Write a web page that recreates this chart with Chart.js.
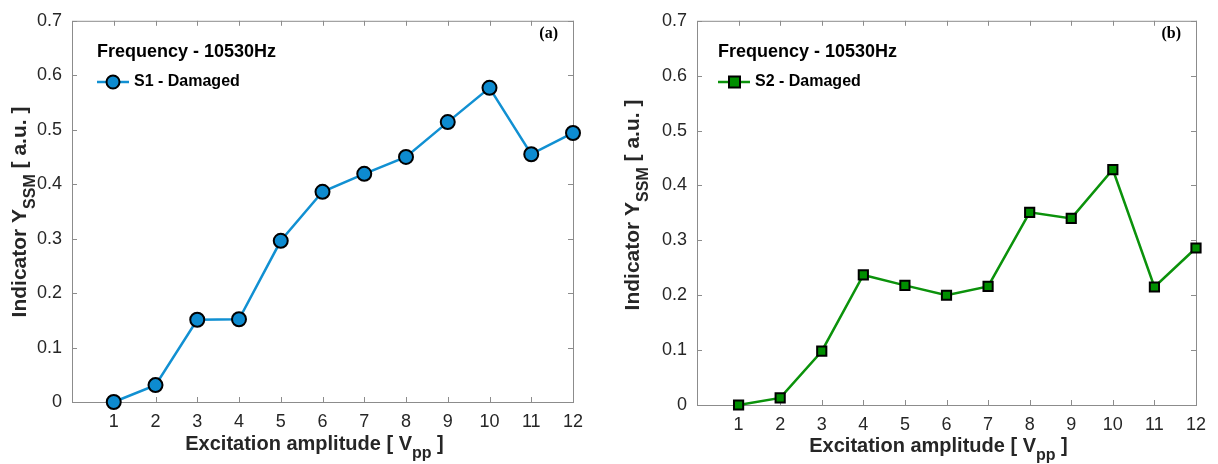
<!DOCTYPE html>
<html>
<head>
<meta charset="utf-8">
<script src="https://cdn.jsdelivr.net/npm/chart.js@4.4.1/dist/chart.umd.min.js"></script>
<style>
  html, body { margin: 0; padding: 0; background: #fff; }
  #wrap { position: relative; width: 1218px; height: 464px; }
  .panel { position: absolute; top: 0; height: 464px; }
</style>
</head>
<body>
<div id="wrap">
  <div class="panel" style="left:0;width:600px"><canvas id="chartA"></canvas></div>
  <div class="panel" style="left:609px;width:609px"><canvas id="chartB"></canvas></div>
</div>
<script>
// excitation amplitude [Vpp]
const amplitude = [1, 2, 3, 4, 5, 6, 7, 8, 9, 10, 11, 12];
// indicator Y_SSM, sensor S1 (damaged)
const s1Damaged = [0.0, 0.031, 0.151, 0.152, 0.296, 0.386, 0.419, 0.450, 0.514, 0.577, 0.455, 0.494];
// indicator Y_SSM, sensor S2 (damaged)
const s2Damaged = [0.0, 0.013, 0.098, 0.237, 0.218, 0.200, 0.216, 0.351, 0.340, 0.429, 0.215, 0.286];
const yTicks = [0, 0.1, 0.2, 0.3, 0.4, 0.5, 0.6, 0.7];
const legendTitle = 'Frequency - 10530Hz';

const SANS = '"Liberation Sans", Arial, Helvetica, sans-serif';
const SERIF = '"Liberation Serif", "Times New Roman", serif';

function points(xs, ys) {
    return xs.map((x, i) => ({ x: x, y: ys[i] }));
}

// draw "main" + subscript + "rest" centred at (cx, cy)
function drawSubText(ctx, main, sub, rest, cx, cy, size) {
    let big = `bold ${size}px ${SANS}`;
    let small = `bold ${Math.round(size * 0.78)}px ${SANS}`;
    ctx.font = big;
    let w1 = ctx.measureText(main).width;
    let w3 = ctx.measureText(rest).width;
    ctx.font = small;
    let w2 = ctx.measureText(sub).width;
    let x = cx - (w1 + w2 + w3) / 2;
    ctx.textBaseline = 'middle';
    ctx.textAlign = 'left';
    ctx.font = big;
    ctx.fillText(main, x, cy);
    ctx.font = small;
    ctx.fillText(sub, x + w1, cy + size * 0.5);
    ctx.font = big;
    ctx.fillText(rest, x + w1 + w2, cy);
}

const framePlugin = {
    id: 'frame',
    beforeDatasetsDraw(chart) {
        let ctx = chart.ctx;
        let a = chart.chartArea;
        let xs = chart.scales.x, ys = chart.scales.y;
        ctx.save();
        ctx.strokeStyle = '#8c8c8c';
        ctx.lineWidth = 1;
        ctx.strokeRect(a.left + 0.5, a.top + 0.5, a.right - a.left, a.bottom - a.top);
        ctx.beginPath();
        amplitude.forEach(v => {
            let px = Math.round(xs.getPixelForValue(v)) + 0.5;
            ctx.moveTo(px, a.bottom); ctx.lineTo(px, a.bottom - 5);
            ctx.moveTo(px, a.top); ctx.lineTo(px, a.top + 5);
        });
        yTicks.forEach(v => {
            let py = Math.round(ys.getPixelForValue(v)) + 0.5;
            ctx.moveTo(a.left, py); ctx.lineTo(a.left + 5, py);
            ctx.moveTo(a.right, py); ctx.lineTo(a.right - 5, py);
        });
        ctx.stroke();
        ctx.restore();
    }
};

const notesPlugin = {
    id: 'notes',
    afterDraw(chart, args, opts) {
        let ctx = chart.ctx;
        let a = chart.chartArea;
        ctx.save();
        // axis titles
        ctx.fillStyle = '#262626';
        drawSubText(ctx, 'Excitation amplitude [ V', 'pp', ' ]', (a.left + a.right) / 2 - 8, opts.xTitleY, 20);
        ctx.save();
        ctx.translate(opts.yTitleX, opts.yTitleCY);
        ctx.rotate(-Math.PI / 2);
        drawSubText(ctx, 'Indicator Y', 'SSM', ' [ a.u. ]', 0, 0, 21);
        ctx.restore();

        // legend block
        let lx = a.left + opts.legendDX;
        ctx.fillStyle = '#000';
        ctx.font = `bold 18px ${SANS}`;
        ctx.textAlign = 'left';
        ctx.textBaseline = 'middle';
        ctx.fillText(legendTitle, lx, 52);
        let ly = 82;
        ctx.strokeStyle = opts.lineColor;
        ctx.lineWidth = 2.5;
        ctx.beginPath();
        ctx.moveTo(lx, ly); ctx.lineTo(lx + 32, ly);
        ctx.stroke();
        ctx.fillStyle = opts.fillColor;
        ctx.strokeStyle = '#000';
        ctx.lineWidth = 2;
        ctx.beginPath();
        if (opts.square) {
            ctx.rect(lx + 11, ly - 5.5, 11, 11);
        } else {
            ctx.arc(lx + 16, ly, 6.5, 0, Math.PI * 2);
        }
        ctx.fill();
        ctx.stroke();
        ctx.fillStyle = '#000';
        ctx.font = `bold 16px ${SANS}`;
        ctx.fillText(opts.seriesName, lx + 37, ly);

        // panel letter
        ctx.font = `bold 16px ${SERIF}`;
        ctx.textAlign = 'right';
        ctx.fillText(opts.panel, a.right - 15, 34);
        ctx.restore();
    }
};

function buildPanel(canvasId, p) {
    return new Chart(document.getElementById(canvasId), {
        type: 'line',
        data: {
            datasets: [{
                label: p.seriesName,
                data: points(amplitude, p.values),
                borderColor: p.lineColor,
                borderWidth: 2.5,
                backgroundColor: p.fillColor,
                pointBackgroundColor: p.fillColor,
                pointBorderColor: '#000',
                pointBorderWidth: 2,
                pointStyle: p.square ? 'rect' : 'circle',
                pointRadius: p.square ? 6.5 : 7,
                tension: 0,
                clip: false,
            }]
        },
        options: {
            responsive: true,
            maintainAspectRatio: false,
            animation: false,
            layout: { padding: { top: 17, right: p.rightPad, left: 0, bottom: 0 } },
            scales: {
                x: {
                    type: 'linear',
                    min: 0,
                    max: 12,
                    grid: { display: false, drawTicks: false },
                    border: { display: false },
                    ticks: {
                        stepSize: 1,
                        padding: 9,
                        color: '#262626',
                        font: { family: SANS, size: 18 },
                        callback: v => v === 0 ? '' : v,
                    },
                    afterFit: s => { s.height = p.xHeight; }
                },
                y: {
                    min: 0,
                    max: 0.7,
                    grid: { display: false, drawTicks: false },
                    border: { display: false },
                    ticks: {
                        stepSize: 0.1,
                        padding: 10,
                        color: '#262626',
                        font: { family: SANS, size: 18 },
                        callback: v => v === 0 ? '0' : v.toFixed(1),
                    },
                    afterFit: s => { s.width = p.yWidth; }
                }
            },
            plugins: {
                legend: { display: false },
                tooltip: { enabled: false },
                notes: p,
            }
        },
        plugins: [framePlugin, notesPlugin]
    });
}

buildPanel('chartA', {
    values: s1Damaged,
    seriesName: 'S1 - Damaged',
    panel: '(a)',
    lineColor: '#1190d2',
    fillColor: '#0d8bd0',
    square: false,
    yWidth: 72,
    xHeight: 62,
    rightPad: 27,
    legendDX: 25,
    xTitleY: 444,
    yTitleX: 20,
    yTitleCY: 212,
});

buildPanel('chartB', {
    values: s2Damaged,
    seriesName: 'S2 - Damaged',
    panel: '(b)',
    lineColor: '#0b920b',
    fillColor: '#008f00',
    square: true,
    yWidth: 88,
    xHeight: 59,
    rightPad: 22,
    legendDX: 21,
    xTitleY: 446,
    yTitleX: 24,
    yTitleCY: 205,
});
</script>
</body>
</html>
